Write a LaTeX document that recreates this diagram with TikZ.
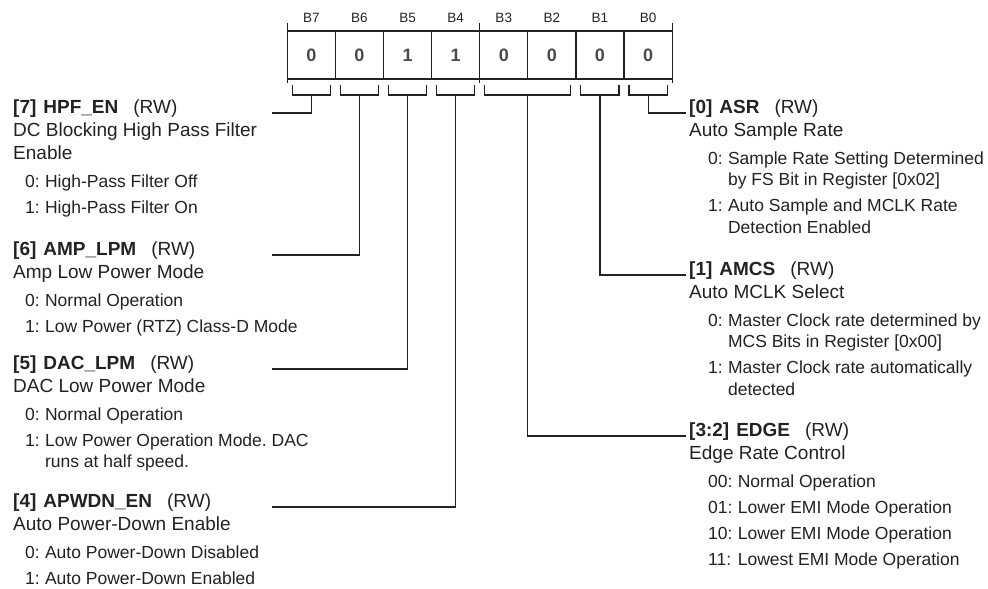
\documentclass[tikz,border=0pt]{standalone}
\usepackage{fontspec}
\setmainfont{Liberation Sans}
\usepackage{array}
\usetikzlibrary{positioning}
\definecolor{ink}{HTML}{222222}
\definecolor{bitval}{HTML}{4A4A4A}
\newcommand\mainsize{\fontsize{19}{21.5}\selectfont}
\newcommand\subsize{\fontsize{17.5}{21.5}\selectfont}
\newcolumntype{L}{@{\hspace{12pt}}>{\subsize}l@{\ }>{\subsize}l@{}}
\newcolumntype{R}{@{\hspace{19pt}}>{\subsize}l@{\ }>{\subsize}l@{}}
\newcommand\hdr[1]{\multicolumn{2}{@{}l@{}}{#1}}
\newcommand\regtitle[2]{\textbf{#1}\hspace{7pt}\textbf{#2}\hspace{15pt}(RW)}
\frenchspacing

\begin{document}
\begin{tikzpicture}[x=1pt,y=-1pt,
  bitcell/.style={draw=ink, line width=1.2pt, minimum width=48.1pt,
    minimum height=48pt, inner sep=0pt, outer sep=0pt,
    font=\fontsize{18}{20}\selectfont\bfseries, text=bitval},
  bitlabel/.style={inner sep=0pt, font=\fontsize{13.5}{15}\selectfont, text=ink},
  field/.style={anchor=base west, inner sep=0pt, font=\mainsize, text=ink},
  leadline/.style={draw=ink, line width=1.1pt}]
  \useasboundingbox (0,0) rectangle (988,589);

  % register cells and bit labels
  \foreach \i/\v in {7/0,6/0,5/1,4/1,3/0,2/0,1/0,0/0}{
    \node[bitcell] (b\i) at ({311.35+48.1*(7-\i)},55) {\v};
    \node[bitlabel, above=8pt of b\i] (l\i) {B\i};
  }
  \draw[leadline] ([yshift=8pt]b7.north west) -- ([yshift=-4pt]b7.south west);
  \draw[leadline] ([yshift=8pt]b3.north west) -- ([yshift=-4pt]b3.south west);
  \draw[leadline] ([yshift=8pt]b0.north east) -- ([yshift=-4pt]b0.south east);

  % brackets under the fields
  \foreach \a/\b in {7/7,6/6,5/5,4/4,3/2,1/1,0/0}
    \draw[leadline] ([xshift=5pt,yshift=-6pt]b\a.south west) -- ++(0,10)
      -| ([xshift=-5pt,yshift=-6pt]b\b.south east);

  % left column
  \node[field] (hpf) at (13,113) {\begin{tabular}[t]{L}
    \hdr{\regtitle{[7]}{HPF\_EN}}\\[1.5pt]
    \hdr{DC Blocking High Pass Filter}\\[1.5pt]
    \hdr{Enable}\\[6.5pt]
    0: & High-Pass Filter Off\\[4.5pt]
    1: & High-Pass Filter On
  \end{tabular}};
  \node[field] (amplpm) at (13,255) {\begin{tabular}[t]{L}
    \hdr{\regtitle{[6]}{AMP\_LPM}}\\[1.5pt]
    \hdr{Amp Low Power Mode}\\[6.5pt]
    0: & Normal Operation\\[4.5pt]
    1: & Low Power (RTZ) Class-D Mode
  \end{tabular}};
  \node[field] (daclpm) at (13,369) {\begin{tabular}[t]{L}
    \hdr{\regtitle{[5]}{DAC\_LPM}}\\[1.5pt]
    \hdr{DAC Low Power Mode}\\[6.5pt]
    0: & Normal Operation\\[4.5pt]
    1: & Low Power Operation Mode. DAC\\
       & runs at half speed.
  \end{tabular}};
  \node[field] (apwdn) at (13,507) {\begin{tabular}[t]{L}
    \hdr{\regtitle{[4]}{APWDN\_EN}}\\[1.5pt]
    \hdr{Auto Power-Down Enable}\\[6.5pt]
    0: & Auto Power-Down Disabled\\[4.5pt]
    1: & Auto Power-Down Enabled
  \end{tabular}};

  % right column
  \node[field] (asr) at (689,113) {\begin{tabular}[t]{R}
    \hdr{\regtitle{[0]}{ASR}}\\[1.5pt]
    \hdr{Auto Sample Rate}\\[6.5pt]
    0: & Sample Rate Setting Determined\\
       & by FS Bit in Register [0x02]\\[4.5pt]
    1: & Auto Sample and MCLK Rate\\
       & Detection Enabled
  \end{tabular}};
  \node[field] (amcs) at (689,275) {\begin{tabular}[t]{R}
    \hdr{\regtitle{[1]}{AMCS}}\\[1.5pt]
    \hdr{Auto MCLK Select}\\[6.5pt]
    0: & Master Clock rate determined by\\
       & MCS Bits in Register [0x00]\\[4.5pt]
    1: & Master Clock rate automatically\\
       & detected
  \end{tabular}};
  \node[field] (edge) at (689,436) {\begin{tabular}[t]{R}
    \hdr{\regtitle{[3:2]}{EDGE}}\\[1.5pt]
    \hdr{Edge Rate Control}\\[6.5pt]
    00: & Normal Operation\\[4.5pt]
    01: & Lower EMI Mode Operation\\[4.5pt]
    10: & Lower EMI Mode Operation\\[4.5pt]
    11: & Lowest EMI Mode Operation
  \end{tabular}};

  % leads from the brackets to the fields
  \coordinate (leftend) at (272,0);
  \coordinate (rightend) at (686,0);
  \draw[leadline] ([yshift=-16pt]b7.south) |- (hpf.base -| leftend);
  \draw[leadline] ([yshift=-16pt]b6.south) |- (amplpm.base -| leftend);
  \draw[leadline] ([yshift=-16pt]b5.south) |- (daclpm.base -| leftend);
  \draw[leadline] ([yshift=-16pt]b4.south) |- (apwdn.base -| leftend);
  \draw[leadline] ([yshift=-16pt]b0.south) |- (asr.base -| rightend);
  \draw[leadline] ([yshift=-16pt]b1.south) |- (amcs.base -| rightend);
  \draw[leadline] ([yshift=-16pt]b3.south east) |- (edge.base -| rightend);
\end{tikzpicture}
\end{document}
